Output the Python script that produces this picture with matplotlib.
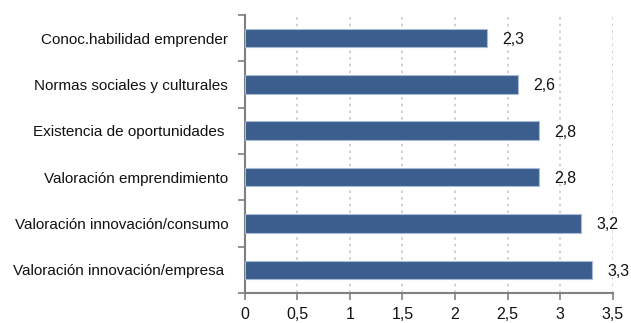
import matplotlib
matplotlib.use('Agg')
import matplotlib.pyplot as plt

categorias = ['Conoc.habilidad emprender', 'Normas sociales y culturales',
              'Existencia de oportunidades ', 'Valoración emprendimiento',
              'Valoración innovación/consumo', 'Valoración innovación/empresa ']
valores = [2.3, 2.6, 2.8, 2.8, 3.2, 3.3]
etiquetas = ['2,3', '2,6', '2,8', '2,8', '3,2', '3,3']
xticks = [0, 0.5, 1, 1.5, 2, 2.5, 3, 3.5]
xtick_labels = ['0', '0,5', '1', '1,5', '2', '2,5', '3', '3,5']

plt.rcParams['font.family'] = ['Liberation Sans', 'DejaVu Sans']
fs = 11

fig = plt.figure(figsize=(6.31, 3.23), dpi=100)
ax = fig.add_axes([0.388, 0.093, 0.583, 0.861])

pos = list(range(len(categorias)))
ax.barh(pos, valores, height=0.4, color='#3c5e8f', edgecolor='#a9bcd6',
        linewidth=0.8, zorder=3)
for p, v, t in zip(pos, valores, etiquetas):
    ax.annotate(t, (v, p), xytext=(11, -1), textcoords='offset points',
                ha='left', va='center', fontsize=fs + 0.5, color='#111111')

ax.set_ylim(len(categorias) - 0.5, -0.5)
ax.set_xlim(0, 3.5)
ax.set_yticks(pos)
ax.set_yticklabels(categorias, fontsize=fs, color='#111111')
ax.set_yticks([p - 0.5 for p in pos] + [len(pos) - 0.5], minor=True)
ax.tick_params(axis='y', which='major', length=0, pad=12)
ax.tick_params(axis='y', which='minor', length=5, color='#808080', width=1.2)
ax.set_xticks(xticks)
ax.set_xticklabels(xtick_labels, fontsize=fs + 0.5, color='#111111')
ax.tick_params(axis='x', length=5, color='#808080', width=1.2, pad=5)

ax.grid(axis='x', linestyle=(0, (1.5, 2.5)), color='#c8c8c8', linewidth=1.2, zorder=0)
for s in ['top', 'right']:
    ax.spines[s].set_visible(False)
for s in ['left', 'bottom']:
    ax.spines[s].set_color('#808080')
    ax.spines[s].set_linewidth(1.5)

fig.savefig('out.png', dpi=100)
